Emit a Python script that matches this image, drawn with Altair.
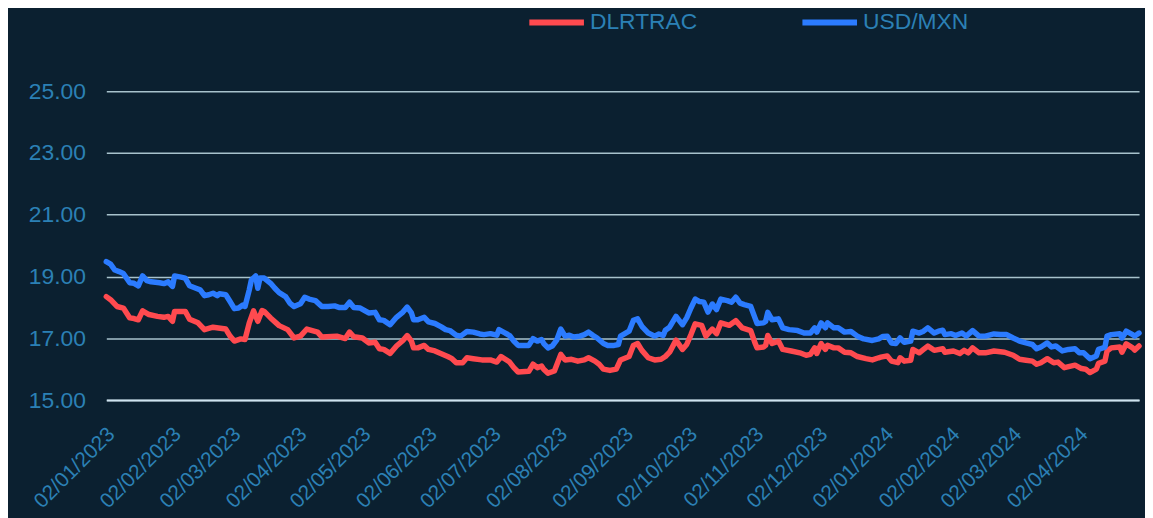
import altair as alt
import pandas as pd

BASE = "2023-01-02"

# day offsets from 2023-01-02 and values
usdmxn_days = [0, 2, 4, 6, 8, 11, 13, 15, 17, 19, 21, 25, 27, 29, 31, 32, 35, 37, 39, 42, 44, 46, 48, 50, 52, 53, 56, 58, 60, 62, 64, 65, 67, 68, 70, 71, 72, 74, 77, 79, 81, 84, 86, 88, 91, 93, 95, 98, 101, 104, 107, 109, 112, 114, 116, 119, 123, 126, 128, 130, 133, 136, 139, 141, 143, 144, 146, 149, 151, 154, 157, 159, 161, 164, 166, 167, 169, 172, 175, 177, 180, 183, 184, 187, 189, 191, 193, 195, 198, 200, 202, 204, 205, 207, 209, 211, 213, 215, 217, 219, 222, 224, 226, 228, 230, 233, 235, 238, 240, 241, 245, 247, 249, 251, 254, 257, 259, 261, 262, 264, 267, 270, 272, 274, 276, 278, 280, 282, 284, 286, 288, 291, 293, 295, 297, 299, 302, 304, 305, 308, 309, 310, 312, 315, 317, 320, 324, 327, 330, 332, 333, 335, 337, 338, 341, 343, 346, 349, 352, 355, 359, 362, 364, 366, 368, 370, 372, 374, 377, 378, 381, 383, 385, 388, 390, 392, 393, 396, 398, 401, 403, 406, 409, 412, 416, 419, 422, 425, 428, 431, 434, 436, 438, 441, 443, 445, 448, 451, 454, 456, 458, 461, 464, 465, 468, 469, 471, 475, 476, 478, 481, 482, 484]
usdmxn = [19.48, 19.40, 19.21, 19.16, 19.10, 18.80, 18.78, 18.70, 19.02, 18.87, 18.83, 18.80, 18.77, 18.83, 18.68, 19.02, 18.98, 18.95, 18.70, 18.62, 18.57, 18.38, 18.41, 18.46, 18.38, 18.44, 18.41, 18.19, 17.96, 17.98, 18.08, 18.03, 18.57, 18.89, 19.02, 18.62, 18.95, 18.95, 18.78, 18.62, 18.48, 18.35, 18.14, 18.03, 18.12, 18.33, 18.27, 18.22, 18.03, 18.03, 18.05, 18.00, 18.00, 18.17, 18.00, 17.98, 17.82, 17.84, 17.60, 17.58, 17.44, 17.68, 17.85, 18.01, 17.82, 17.60, 17.60, 17.68, 17.53, 17.48, 17.37, 17.28, 17.25, 17.10, 17.07, 17.12, 17.22, 17.20, 17.14, 17.12, 17.15, 17.10, 17.28, 17.17, 17.09, 16.91, 16.77, 16.77, 16.77, 16.99, 16.91, 16.96, 16.83, 16.69, 16.75, 16.93, 17.30, 17.07, 17.10, 17.04, 17.07, 17.12, 17.20, 17.10, 17.01, 16.83, 16.77, 16.77, 16.80, 17.07, 17.23, 17.58, 17.63, 17.39, 17.17, 17.07, 17.14, 17.09, 17.26, 17.36, 17.71, 17.44, 17.66, 17.98, 18.27, 18.19, 18.17, 17.85, 18.11, 17.93, 18.27, 18.22, 18.17, 18.33, 18.14, 18.09, 18.03, 17.66, 17.48, 17.50, 17.55, 17.84, 17.60, 17.63, 17.34, 17.28, 17.25, 17.17, 17.17, 17.34, 17.20, 17.50, 17.34, 17.50, 17.34, 17.34, 17.20, 17.22, 17.07, 16.98, 16.93, 16.98, 17.06, 17.07, 16.85, 16.83, 17.01, 16.87, 16.91, 17.23, 17.17, 17.23, 17.34, 17.17, 17.23, 17.26, 17.12, 17.15, 17.09, 17.17, 17.07, 17.25, 17.07, 17.07, 17.14, 17.12, 17.12, 17.01, 16.91, 16.85, 16.80, 16.66, 16.72, 16.85, 16.72, 16.75, 16.59, 16.64, 16.66, 16.53, 16.53, 16.34, 16.43, 16.64, 16.71, 17.07, 17.12, 17.15, 17.01, 17.23, 17.12, 17.07, 17.17]

dlrtrac_days = [0, 2, 5, 8, 11, 13, 15, 17, 20, 24, 27, 29, 31, 32, 37, 39, 43, 46, 50, 56, 58, 60, 63, 65, 67, 69, 71, 73, 74, 77, 81, 85, 88, 91, 94, 99, 101, 108, 112, 114, 116, 120, 123, 126, 128, 130, 133, 136, 139, 141, 143, 144, 146, 149, 151, 154, 157, 160, 162, 164, 167, 169, 172, 176, 180, 183, 185, 187, 189, 191, 193, 198, 200, 202, 204, 205, 207, 210, 213, 215, 218, 221, 224, 226, 229, 231, 233, 236, 239, 241, 245, 247, 249, 251, 254, 257, 260, 262, 264, 267, 270, 272, 274, 276, 279, 281, 284, 286, 288, 292, 295, 298, 302, 304, 305, 308, 309, 310, 312, 315, 317, 321, 325, 328, 330, 332, 333, 335, 337, 338, 341, 343, 346, 349, 352, 356, 359, 362, 363, 366, 368, 371, 372, 374, 377, 378, 381, 383, 385, 388, 392, 393, 397, 400, 402, 404, 406, 409, 412, 416, 421, 425, 428, 431, 434, 436, 438, 441, 444, 446, 449, 452, 454, 457, 459, 461, 464, 465, 468, 469, 471, 475, 476, 478, 481, 482, 484]
dlrtrac = [18.35, 18.25, 18.03, 17.98, 17.66, 17.64, 17.60, 17.89, 17.77, 17.71, 17.68, 17.71, 17.55, 17.87, 17.87, 17.62, 17.50, 17.28, 17.36, 17.30, 17.07, 16.91, 16.98, 16.96, 17.50, 17.89, 17.55, 17.90, 17.87, 17.66, 17.41, 17.28, 17.01, 17.07, 17.30, 17.20, 17.04, 17.07, 16.99, 17.20, 17.05, 17.01, 16.85, 16.87, 16.66, 16.64, 16.51, 16.75, 16.93, 17.09, 16.91, 16.69, 16.69, 16.77, 16.64, 16.59, 16.50, 16.41, 16.34, 16.21, 16.21, 16.37, 16.34, 16.30, 16.30, 16.23, 16.41, 16.32, 16.23, 16.05, 15.91, 15.93, 16.16, 16.05, 16.10, 16.00, 15.87, 15.94, 16.48, 16.30, 16.32, 16.26, 16.30, 16.37, 16.26, 16.16, 16.00, 15.96, 16.00, 16.30, 16.41, 16.77, 16.83, 16.61, 16.37, 16.30, 16.32, 16.41, 16.55, 16.94, 16.64, 16.80, 17.12, 17.47, 17.42, 17.07, 17.30, 17.15, 17.50, 17.42, 17.57, 17.34, 17.25, 16.85, 16.69, 16.72, 16.77, 17.09, 16.83, 16.91, 16.64, 16.59, 16.53, 16.45, 16.48, 16.69, 16.51, 16.83, 16.64, 16.77, 16.69, 16.69, 16.55, 16.53, 16.41, 16.34, 16.30, 16.37, 16.39, 16.43, 16.26, 16.21, 16.37, 16.26, 16.29, 16.64, 16.53, 16.64, 16.75, 16.61, 16.66, 16.55, 16.59, 16.51, 16.61, 16.53, 16.69, 16.53, 16.53, 16.59, 16.55, 16.45, 16.32, 16.29, 16.26, 16.16, 16.21, 16.34, 16.21, 16.23, 16.05, 16.10, 16.13, 16.02, 16.00, 15.89, 16.00, 16.19, 16.26, 16.59, 16.69, 16.72, 16.55, 16.82, 16.69, 16.62, 16.75]

series_names = ["DLRTRAC", "USD/MXN"]
series_colors = ["#ff4a4f", "#2b7bff"]
y_ticks = [15, 17, 19, 21, 23, 25]
x_tick_months = [(2023, m) for m in range(1, 13)] + [(2024, m) for m in range(1, 5)]

base = pd.Timestamp(BASE)
df = pd.concat([
    pd.DataFrame({"date": base + pd.to_timedelta(dlrtrac_days, unit="D"),
                  "value": dlrtrac, "series": series_names[0]}),
    pd.DataFrame({"date": base + pd.to_timedelta(usdmxn_days, unit="D"),
                  "value": usdmxn, "series": series_names[1]}),
])

label_color = "#2b80b5"

x_values = [alt.DateTime(year=y, month=m, date=2) for y, m in x_tick_months]

chart = alt.Chart(df).mark_line(strokeWidth=5.5, strokeJoin="round", strokeCap="round").encode(
    x=alt.X("date:T",
            scale=alt.Scale(domain=[alt.DateTime(year=2023, month=1, date=2),
                                    alt.DateTime(year=2024, month=4, date=30)]),
            axis=alt.Axis(values=x_values, format="%d/%m/%Y", labelAngle=-45,
                          labelAlign="right", labelBaseline="middle",
                          labelPadding=31, labelOffset=5, ticks=False, grid=False,
                          domain=True, domainColor="#cfe3ef", domainWidth=2,
                          labelOverlap=False, labelFlush=False,
                          labelColor=label_color, labelFontSize=21,
                          labelFont="Liberation Sans", title=None)),
    y=alt.Y("value:Q",
            scale=alt.Scale(domain=[15, 25], nice=False, zero=False),
            axis=alt.Axis(values=y_ticks, format=".2f", ticks=False, domain=False,
                          grid=True, gridColor="#a8c2cc", gridWidth=1.5,
                          labelPadding=21, labelColor=label_color, labelFontSize=23,
                          labelFont="Liberation Sans", title=None)),
    color=alt.Color("series:N",
                    scale=alt.Scale(domain=series_names, range=series_colors),
                    legend=alt.Legend(orient="none", legendX=423, legendY=-100,
                                      direction="horizontal", title=None,
                                      symbolType="stroke", symbolSize=3025,
                                      symbolStrokeWidth=6, labelFontSize=23,
                                      labelFont="Liberation Sans",
                                      labelColor=label_color, labelOffset=3,
                                      columnPadding=93)),
).properties(
    width=1040, height=311,
    background="#0b2030",
    padding={"left": 99, "top": 82, "right": 6, "bottom": 125},
    autosize=alt.AutoSizeParams(type="none"),
).configure_view(stroke=None)

chart.save("out.html", embed_options={"renderer": "svg", "actions": False})
